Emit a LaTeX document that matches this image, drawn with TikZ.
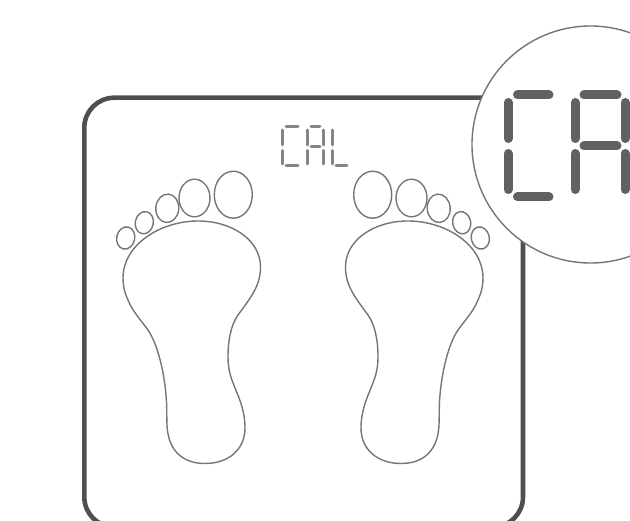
\documentclass[tikz,border=0pt]{standalone}
\tikzset{
  casing/.style={draw=casegray,line width=4.6pt},
  outline/.style={draw=linegray,line width=1.4pt},
  bigseg/.style={draw=seggray,line width=9pt,line cap=round},
  smallseg/.style={draw=smallgray,line width=3pt,line cap=round},
}
\definecolor{casegray}{HTML}{4F4F50}
\definecolor{linegray}{HTML}{757576}
\definecolor{seggray}{HTML}{616162}
\definecolor{smallgray}{HTML}{858586}
\newcommand{\toeat}[5]{\draw[outline,shift={(#1,#2)},rotate=#5] (0,0) ellipse [x radius=#3pt,y radius=#4pt];}
\newcommand{\onefoot}{%
  \toeat{233.3}{194.7}{19}{23.5}{0}
  \toeat{194.5}{198}{15.5}{18.8}{0}
  \toeat{167.3}{208.3}{11.5}{14.2}{-5}
  \toeat{144.3}{222.7}{9}{11.2}{-12}
  \toeat{125.7}{238}{9}{11.2}{-12}
  \draw[outline] (198,221)
    .. controls (232,221) and (260.5,240) .. (260.5,267)
    .. controls (260.5,285) and (252,296) .. (238,315)
    .. controls (231,325) and (228,340) .. (228,357)
    .. controls (228,372) and (232,380) .. (235,388)
    .. controls (240,400) and (245,412) .. (245,428)
    .. controls (245,450) and (228,463.5) .. (205,463.5)
    .. controls (182,463.5) and (168,450) .. (167,425)
    .. controls (166.5,410) and (167,405) .. (166,395)
    .. controls (164,372) and (158,345) .. (148,330)
    .. controls (140,319) and (133,312) .. (128,300)
    .. controls (124,291) and (123,285) .. (123,278)
    .. controls (123,245) and (160,221) .. (198,221) -- cycle;
}
\begin{document}
\begin{tikzpicture}[x=1pt,y=-1pt]
  \useasboundingbox (0,0) rectangle (630,521);
  \clip (0,0) rectangle (630,521);
  % scale casing
  \draw[casing,rounded corners=30pt] (84.3,97.7) rectangle (523,527);
  % feet
  \onefoot
  \begin{scope}[xshift=606pt,xscale=-1]
    \onefoot
  \end{scope}
  % small display: C A L
  \foreach \ya/\yb in {130/145,150.5/164} {
    \draw[smallseg] (282,\ya) -- (282,\yb);
    \draw[smallseg] (307,\ya) -- (307,\yb);
    \draw[smallseg] (323,\ya) -- (323,\yb);
    \draw[smallseg] (332,\ya) -- (332,\yb);
  }
  \draw[smallseg] (286,127) -- (298,127);
  \draw[smallseg] (286,166) -- (298,166);
  \draw[smallseg] (311,127) -- (320,127);
  \draw[smallseg] (311,147) -- (320,147);
  \draw[smallseg] (336,166) -- (347,166);
  % magnifier
  \draw[outline,fill=white] (590.5,144.5) circle [radius=118.5pt];
  \foreach \ya/\yb in {102.5/138.5,153.5/189.5} {
    \draw[bigseg] (508,\ya) -- (508,\yb);
    \draw[bigseg] (575,\ya) -- (575,\yb);
    \draw[bigseg] (625,\ya) -- (625,\yb);
  }
  \draw[bigseg] (517.5,95) -- (549,95);
  \draw[bigseg] (517.5,197) -- (549,197);
  \draw[bigseg] (584,95) -- (617,95);
  \draw[bigseg] (584,146) -- (617,146);
\end{tikzpicture}
\end{document}
